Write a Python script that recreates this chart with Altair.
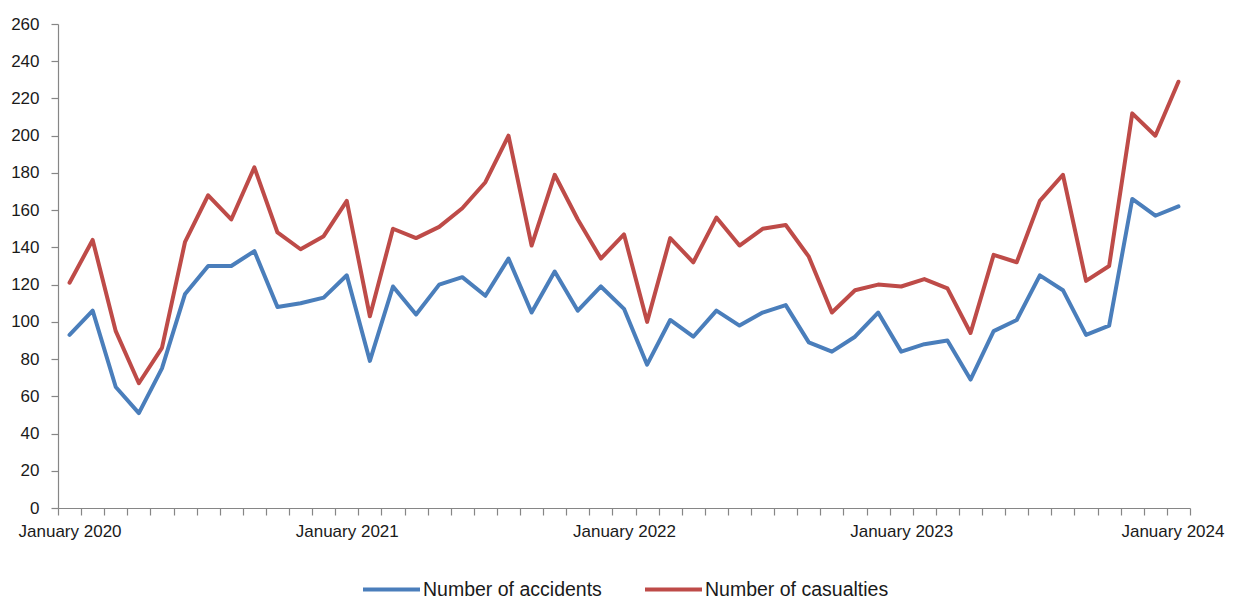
import altair as alt
import pandas as pd

month_names = ["January", "February", "March", "April", "May", "June", "July",
               "August", "September", "October", "November", "December"]
years = [2020, 2021, 2022, 2023, 2024]
months = [f"{m} {y}" for y in years for m in month_names][:49]

accidents = [93, 106, 65, 51, 75, 115, 130, 130, 138, 108, 110, 113,
             125, 79, 119, 104, 120, 124, 114, 134, 105, 127, 106, 119,
             107, 77, 101, 92, 106, 98, 105, 109, 89, 84, 92, 105,
             84, 88, 90, 69, 95, 101, 125, 117, 93, 98, 166, 157,
             162]
casualties = [121, 144, 95, 67, 86, 143, 168, 155, 183, 148, 139, 146,
              165, 103, 150, 145, 151, 161, 175, 200, 141, 179, 155, 134,
              147, 100, 145, 132, 156, 141, 150, 152, 135, 105, 117, 120,
              119, 123, 118, 94, 136, 132, 165, 179, 122, 130, 212, 200,
              229]

series_names = ["Number of accidents", "Number of casualties"]
series_colors = ["#4A7EBB", "#BE4B48"]

rows = []
for name, vals in zip(series_names, [accidents, casualties]):
    for m, v in zip(months, vals):
        rows.append({"month": m, "series": name, "value": v})
df = pd.DataFrame(rows)

FONT = "Liberation Sans"

chart = alt.Chart(df).mark_line(strokeWidth=4, strokeJoin="round", strokeCap="round").encode(
    x=alt.X("month:O", sort=months,
            scale=alt.Scale(type="band", paddingInner=0, paddingOuter=0),
            axis=alt.Axis(title=None, labelAngle=0, tickBand="extent",
                          labelExpr="indexof(datum.label, 'January') == 0 ? datum.label : ''",
                          labelOverlap=False, labelFont=FONT, labelFontSize=17,
                          labelOffset={"condition": {"test": "datum.value == 'January 2024'", "value": -6}, "value": 0},
                          labelColor="#1a1a1a", domainColor="#868686", tickColor="#868686",
                          tickSize=7, labelPadding=8, domainWidth=1.2, tickWidth=1.2)),
    y=alt.Y("value:Q", scale=alt.Scale(domain=[0, 260], nice=False),
            axis=alt.Axis(title=None, values=list(range(0, 261, 20)), grid=False,
                          labelFont=FONT, labelFontSize=17, labelColor="#1a1a1a",
                          domainColor="#868686", tickColor="#868686", tickSize=7,
                          labelPadding=12, domainWidth=1.2, tickWidth=1.2)),
    color=alt.Color("series:N",
                    scale=alt.Scale(domain=series_names, range=series_colors),
                    legend=alt.Legend(title=None, orient="none", legendX=303, legendY=535,
                                      direction="horizontal", symbolType="stroke",
                                      symbolSize=3249, symbolStrokeWidth=4,
                                      labelFont=FONT, labelFontSize=19.5, labelColor="#1a1a1a",
                                      labelOffset=1, columnPadding=35, padding=0,
                                      labelLimit=400)),
).properties(
    width=1132, height=484,
    padding={"left": 50, "top": 16, "right": 35, "bottom": 100},
    autosize=alt.AutoSizeParams(type="none"),
).configure_view(stroke=None)

chart.save("out.html", embed_options={"renderer": "svg", "actions": False})
